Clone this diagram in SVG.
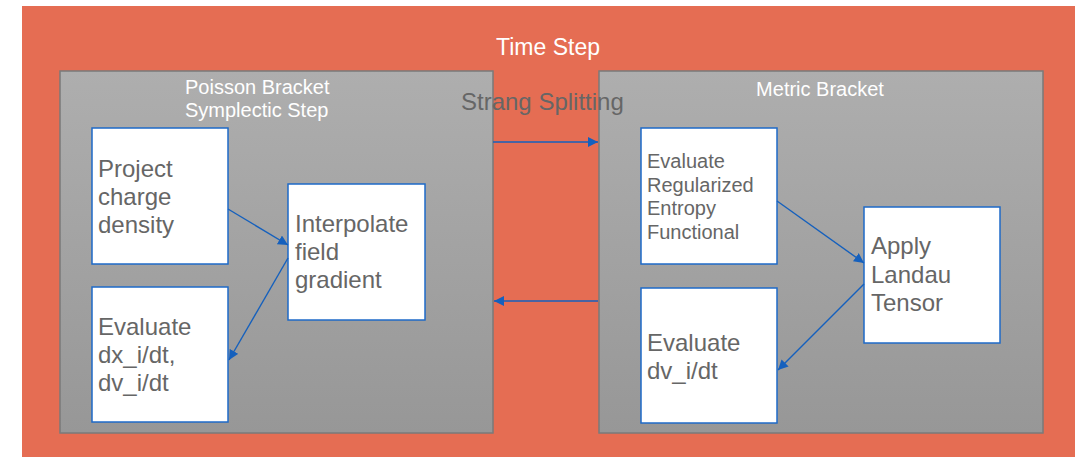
<svg xmlns="http://www.w3.org/2000/svg" width="1079" height="457" viewBox="0 0 1079 457">
<defs>
<linearGradient id="gp" x1="0" y1="0" x2="0" y2="1">
<stop offset="0" stop-color="#AEAEAE"/>
<stop offset="1" stop-color="#979797"/>
</linearGradient>
<marker id="ah" viewBox="0 0 10 10" refX="10" refY="5" markerWidth="10" markerHeight="10" markerUnits="userSpaceOnUse" orient="auto">
<path d="M0,0 L10,5 L0,10 z" fill="#1560BD"/>
</marker>
<style>
.panel{fill:url(#gp);stroke:#7A7A7A;stroke-width:1.5}
.box{fill:#FFFFFF;stroke:#1E6AC8;stroke-width:1.5}
.t{font-family:"Liberation Sans",Arial,sans-serif;fill:#666666}
.w{font-family:"Liberation Sans",Arial,sans-serif;fill:#FFFFFF}
.big{font-size:24px}
.mid{font-size:20px}
.con{stroke:#1560BD;stroke-width:1.4;fill:none;marker-end:url(#ah)}
</style>
</defs>
<rect x="0" y="0" width="1079" height="457" fill="#FFFFFF"/>
<g id="timestep">
<rect x="22" y="6" width="1053" height="451" fill="#E56D53"/>
<text class="w" x="548" y="55" font-size="23" text-anchor="middle">Time Step</text>
</g>
<g id="poisson">
<rect class="panel" x="60" y="71" width="433" height="362"/>
<text class="w mid" x="185" y="94">Poisson Bracket</text>
<text class="w mid" x="185" y="117">Symplectic Step</text>
</g>
<g id="metric">
<rect class="panel" x="599" y="71" width="444" height="362"/>
<text class="w mid" x="820" y="96" text-anchor="middle">Metric Bracket</text>
</g>
<g id="strang">
<text class="t big" x="461" y="110">Strang Splitting</text>
</g>
<g id="project">
<rect class="box" x="92" y="128" width="136" height="136"/>
<text class="t big" x="98" y="177">Project</text>
<text class="t big" x="98" y="205">charge</text>
<text class="t big" x="98" y="233">density</text>
</g>
<g id="interpolate">
<rect class="box" x="288" y="184" width="137" height="136"/>
<text class="t big" x="295" y="232">Interpolate</text>
<text class="t big" x="295" y="260">field</text>
<text class="t big" x="295" y="288">gradient</text>
</g>
<g id="evaldx">
<rect class="box" x="92" y="287" width="136" height="135"/>
<text class="t big" x="98" y="335">Evaluate</text>
<text class="t big" x="98" y="363">dx_i/dt,</text>
<text class="t big" x="98" y="391">dv_i/dt</text>
</g>
<g id="entropy">
<rect class="box" x="641" y="128" width="136" height="136"/>
<text class="t mid" x="647" y="168">Evaluate</text>
<text class="t mid" x="647" y="192">Regularized</text>
<text class="t mid" x="647" y="215">Entropy</text>
<text class="t mid" x="647" y="239">Functional</text>
</g>
<g id="landau">
<rect class="box" x="864" y="207" width="136" height="136"/>
<text class="t big" x="871" y="254">Apply</text>
<text class="t big" x="871" y="283">Landau</text>
<text class="t big" x="871" y="311">Tensor</text>
</g>
<g id="evaldv">
<rect class="box" x="641" y="288" width="136" height="135"/>
<text class="t big" x="647" y="351">Evaluate</text>
<text class="t big" x="647" y="379">dv_i/dt</text>
</g>
<g id="connectors">
<line class="con" x1="493" y1="142" x2="598" y2="142"/>
<line class="con" x1="598" y1="301" x2="494" y2="301"/>
<line class="con" x1="228" y1="209" x2="288" y2="245"/>
<line class="con" x1="288" y1="258" x2="229" y2="360"/>
<line class="con" x1="777" y1="201" x2="864" y2="263"/>
<line class="con" x1="864" y1="284" x2="778" y2="370"/>
</g>
</svg>
